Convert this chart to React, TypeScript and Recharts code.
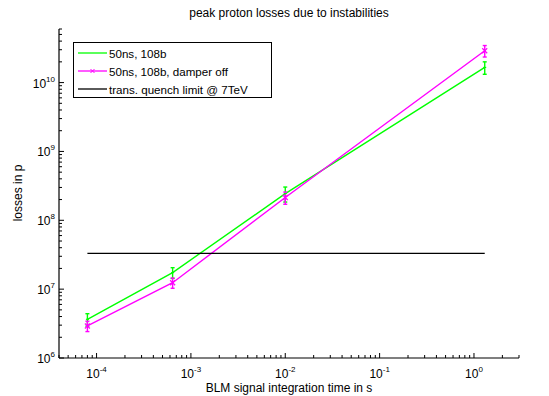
import React from "react";
import { ComposedChart, Line, XAxis, YAxis, ErrorBar, Legend } from "recharts";

// integration time in s
const times = [8e-5, 6.4e-4, 1.0e-2, 1.3];
// 50ns, 108b
const greenLoss = [3.65e6, 1.74e7, 2.44e8, 1.66e10];
const greenErr = [0.75e6, 0.31e7, 0.6e8, 0.34e10];
// 50ns, 108b, damper off
const pinkLoss = [2.92e6, 1.24e7, 2.14e8, 2.9e10];
const pinkErr = [0.5e6, 0.21e7, 0.43e8, 0.55e10];
// trans. quench limit @ 7TeV
const quench = [3.3e7, 3.3e7, 3.3e7, 3.3e7];

const seriesNames = ["50ns, 108b", "50ns, 108b, damper off", "trans. quench limit @ 7TeV"];
const seriesColors = ["#00ff00", "#ff00ff", "#000000"];

const xMajor = [1e-4, 1e-3, 1e-2, 1e-1, 1];
const yMajor = [1e6, 1e7, 1e8, 1e9, 1e10];
const xDomain = [4e-5, 3];
const yDomain = [1e6, 6e10];

const data = times.map((t, i) => ({
  t,
  green: greenLoss[i],
  ge: greenErr[i],
  pink: pinkLoss[i],
  pe: pinkErr[i],
  quench: quench[i],
}));

const font = "'Liberation Sans', Arial, Helvetica, sans-serif";

function withMinors(majors: number[], dom: number[]) {
  const out: number[] = [];
  const start = majors[0] / 10;
  for (let d = start; d <= dom[1]; d *= 10) {
    for (let k = 1; k < 10; k++) {
      const v = d * k;
      if (v >= dom[0] * 0.999 && v <= dom[1] * 1.001) out.push(v);
    }
  }
  return out;
}
const xTicks = withMinors(xMajor, xDomain);
const yTicks = withMinors(yMajor, yDomain);

const isMajor = (v: number) => Math.abs(Math.log10(v) - Math.round(Math.log10(v))) < 1e-6;
const expOf = (v: number) => String(Math.round(Math.log10(v)));

const BottomTick = (p: any) => {
  const v = p.payload.value;
  const major = isMajor(v);
  return (
    <g>
      <line x1={p.x} x2={p.x} y1={p.y} y2={p.y - (major ? 5 : 3)} stroke="#000" />
      {major && (
        <text x={p.x} y={p.y + 20} textAnchor="middle" fontSize={12} fontFamily={font} fill="#000">
          10<tspan dy={-6} fontSize={8}>{expOf(v)}</tspan>
        </text>
      )}
    </g>
  );
};
const TopTick = (p: any) => {
  const major = isMajor(p.payload.value);
  return <line x1={p.x} x2={p.x} y1={p.y} y2={p.y + (major ? 5 : 3)} stroke="#000" />;
};
const LeftTick = (p: any) => {
  const v = p.payload.value;
  const major = isMajor(v);
  return (
    <g>
      <line x1={p.x} x2={p.x + (major ? 5 : 3)} y1={p.y} y2={p.y} stroke="#000" />
      {major && (
        <text x={p.x - 4} y={p.y + 5} textAnchor="end" fontSize={12} fontFamily={font} fill="#000">
          10<tspan dy={-6} fontSize={8}>{expOf(v)}</tspan>
        </text>
      )}
    </g>
  );
};
const RightTick = (p: any) => {
  const major = isMajor(p.payload.value);
  return <line x1={p.x} x2={p.x - (major ? 5 : 3)} y1={p.y} y2={p.y} stroke="#000" />;
};

const PlusDot = (p: any) => (
  <g>
    <line x1={p.cx - 1.5} x2={p.cx + 1.5} y1={p.cy} y2={p.cy} stroke="#00ff00" strokeWidth={1.2} />
  </g>
);
const CrossDot = (p: any) => (
  <g stroke="#ff00ff" strokeWidth={1.2}>
    <line x1={p.cx - 2.5} x2={p.cx + 2.5} y1={p.cy - 2.5} y2={p.cy + 2.5} />
    <line x1={p.cx - 2.5} x2={p.cx + 2.5} y1={p.cy + 2.5} y2={p.cy - 2.5} />
  </g>
);

const LegendBox = () => (
  <div
    style={{
      border: "1px solid #000",
      background: "#fff",
      width: 197,
      height: 54,
      position: "relative",
      fontFamily: font,
      fontSize: 11.6,
      color: "#000",
    }}
  >
    {seriesNames.map((name, i) => (
      <div
        key={name}
        style={{ position: "absolute", left: 0, top: 1 + i * 18, height: 18, display: "flex", alignItems: "center", whiteSpace: "nowrap" }}
      >
        <svg width={35} height={18} style={{ display: "block" }}>
          <line x1={4} x2={33} y1={9} y2={9} stroke={seriesColors[i]} strokeWidth={1.3} />
          {i === 1 && (
            <g stroke={seriesColors[i]} strokeWidth={1}>
              <line x1={16.5} x2={20.5} y1={7} y2={11} />
              <line x1={16.5} x2={20.5} y1={11} y2={7} />
            </g>
          )}
        </svg>
        <span>{name}</span>
      </div>
    ))}
  </div>
);

export default function App() {
  return (
    <div style={{ position: "absolute", left: 0, top: 0, width: 549, height: 396, background: "#fff" }}>
      <ComposedChart width={549} height={396} data={data} margin={{ top: 29, right: 30, bottom: 0, left: 0 }}>
        <XAxis
          dataKey="t"
          type="number"
          scale="log"
          domain={xDomain}
          allowDataOverflow
          ticks={xTicks}
          interval={0}
          height={38}
          tickSize={0}
          tickMargin={0}
          tickLine={false}
          axisLine={{ stroke: "#000", strokeWidth: 1.2 }}
          tick={BottomTick}
        />
        <XAxis
          xAxisId="top"
          dataKey="t"
          type="number"
          scale="log"
          orientation="top"
          domain={xDomain}
          allowDataOverflow
          ticks={xTicks}
          interval={0}
          height={0}
          tickSize={0}
          tickMargin={0}
          tickLine={false}
          axisLine={{ stroke: "#000", strokeWidth: 1.2 }}
          tick={TopTick}
        />
        <YAxis
          type="number"
          scale="log"
          domain={yDomain}
          allowDataOverflow
          ticks={yTicks}
          interval={0}
          width={59}
          tickSize={0}
          tickMargin={0}
          tickLine={false}
          axisLine={{ stroke: "#000", strokeWidth: 1.2 }}
          tick={LeftTick}
        />
        <YAxis
          yAxisId="right"
          type="number"
          scale="log"
          orientation="right"
          domain={yDomain}
          allowDataOverflow
          ticks={yTicks}
          interval={0}
          width={0}
          tickSize={0}
          tickMargin={0}
          tickLine={false}
          axisLine={{ stroke: "#000", strokeWidth: 1.2 }}
          tick={RightTick}
        />
        <Legend
          verticalAlign="middle"
          align="center"
          layout="horizontal"
          content={LegendBox}
          wrapperStyle={{ position: "absolute", left: 73, top: 42, width: 199, height: 56 }}
        />
        <Line
          dataKey="green"
          stroke="#00ff00"
          strokeWidth={1.4}
          dot={PlusDot}
          activeDot={false}
          isAnimationActive={false}
        >
          <ErrorBar dataKey="ge" direction="y" width={2} stroke="#00ff00" strokeWidth={1.4} isAnimationActive={false} />
        </Line>
        <Line
          dataKey="pink"
          stroke="#ff00ff"
          strokeWidth={1.4}
          dot={CrossDot}
          activeDot={false}
          isAnimationActive={false}
        >
          <ErrorBar dataKey="pe" direction="y" width={2} stroke="#ff00ff" strokeWidth={1.4} isAnimationActive={false} />
        </Line>
        <Line dataKey="quench" stroke="#000" strokeWidth={1.3} dot={false} activeDot={false} isAnimationActive={false} />
        <text x={289} y={17} textAnchor="middle" fontSize={12} fontFamily={font} fill="#000">
          peak proton losses due to instabilities
        </text>
        <text x={289} y={392} textAnchor="middle" fontSize={12} fontFamily={font} fill="#000">
          BLM signal integration time in s
        </text>
        <text x={22} y={193} transform="rotate(-90 22 193)" textAnchor="middle" fontSize={12} fontFamily={font} fill="#000">
          losses in p
        </text>
      </ComposedChart>
    </div>
  );
}
